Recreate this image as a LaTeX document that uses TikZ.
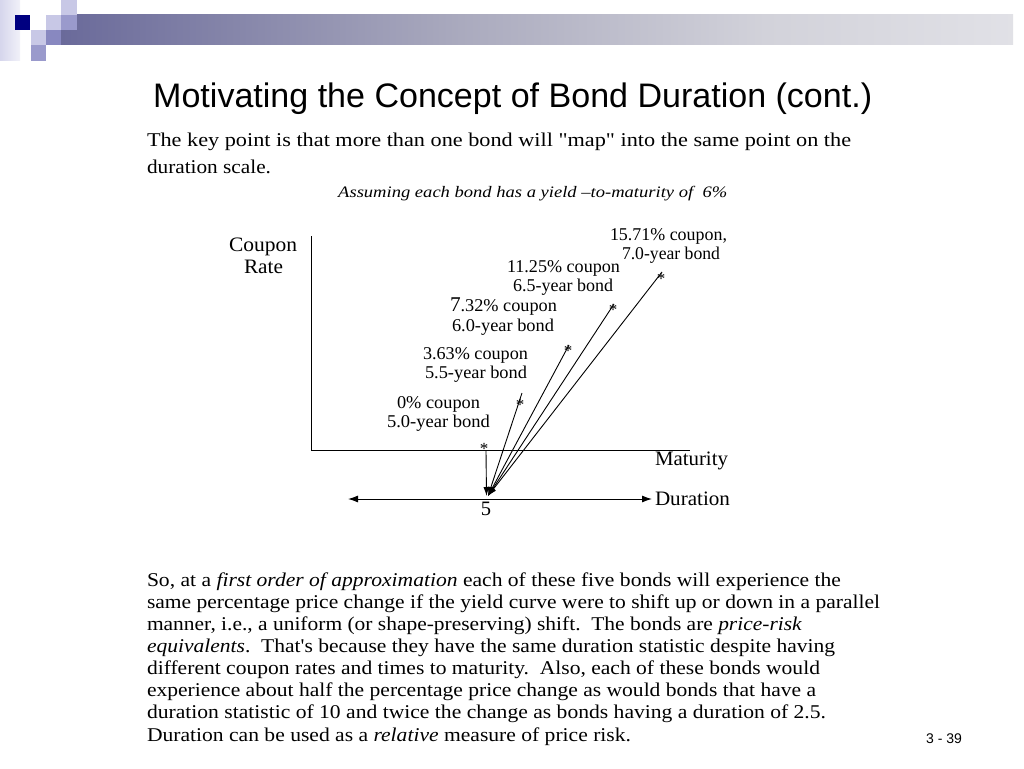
\documentclass[tikz,border=0pt]{standalone}
\usepackage{fontspec}
\setmainfont{Liberation Serif}[Ligatures=TeXOff]
\newfontfamily\sansf{Liberation Sans}
\usepackage{graphicx}
\usetikzlibrary{arrows.meta}
\newcommand{\fitw}[2]{\resizebox{#1pt}{\height}{#2}}
\definecolor{navyA}{HTML}{000080}
\definecolor{barA}{HTML}{1A1A80}
\definecolor{barB}{HTML}{6A6A9A}
\definecolor{barC}{HTML}{AAAABE}
\definecolor{barD}{HTML}{D2D2DA}
\definecolor{barE}{HTML}{EAEAEE}
\definecolor{barF}{HTML}{FAFAFC}
\definecolor{sqLight}{HTML}{C8C8E6}
\definecolor{sqMid}{HTML}{9A9ACC}
\definecolor{sqMidB}{HTML}{8888C0}
\pgfdeclarehorizontalshading{barshade}{100bp}{color(0bp)=(barA); color(25bp)=(barB); color(46bp)=(barC); color(62bp)=(barD); color(83bp)=(barE); color(100bp)=(barF)}
\pgfdeclarehorizontalshading{stripshade}{100bp}{color(0bp)=(sqLight); color(100bp)=(white)}
\tikzset{
  txt/.style={inner sep=0pt, outer sep=0pt, anchor=base west, font=\fontsize{19.5}{22}\selectfont},
  lbl/.style={inner sep=0pt, outer sep=0pt, anchor=base, font=\fontsize{18}{20}\selectfont},
  axlbl/.style={inner sep=0pt, outer sep=0pt, font=\fontsize{20.5}{22}\selectfont},
  starmark/.style={inner sep=0pt, outer sep=0pt, anchor=base, font=\fontsize{17}{17}\selectfont},
  axline/.style={line width=1pt},
  ray/.style={line width=0.9pt, -{Latex[length=9pt,width=6pt]}},
}
\begin{document}
\begin{tikzpicture}[x=1pt,y=-1pt]
\useasboundingbox (0,0) rectangle (1024,768);
\fill[white] (0,0) rectangle (1024,768);
% decoration
\shade[shading=stripshade] (0,0) rectangle (20,60);
\shade[shading=barshade] (61,15) rectangle (1013,45);
\fill[sqLight] (61,0) rectangle (77,15);
\fill[navyA] (15,15) rectangle (30,30);
\fill[sqLight] (46,15) rectangle (61,30);
\fill[sqMid] (61,15) rectangle (77,30);
\fill[sqLight] (31,30) rectangle (46,45);
\fill[sqMidB] (46,30) rectangle (61,45);
\fill[sqMid] (31,45) rectangle (46,61);
% title
\node[inner sep=0pt, anchor=base west, font=\sansf\fontsize{34}{36}\selectfont] (title) at (153,107.5)
  {\fitw{719}{Motivating the Concept of Bond Duration (cont.)}};
% top text
\node[txt] (t1) at (147,146) {\fitw{704}{The key point is that more than one bond will "map" into the same point on the}};
\node[txt] (t2) at (147,173) {\fitw{124}{duration scale.}};
\node[inner sep=0pt, anchor=base west, font=\fontsize{16}{18}\selectfont\itshape] (t3) at (338,197)
  {\fitw{389}{Assuming each bond has a yield –to-maturity of\ \ 6\%}};
% axes
\coordinate (yTop) at (311,236);
\coordinate (orig) at (311,450);
\coordinate (xEnd) at (690,450);
\draw[axline] (yTop) -- (orig) -- (xEnd);
\node[axlbl, anchor=base] (cp) at (263,251) {\fitw{68}{Coupon}};
\node[axlbl, anchor=base] (rt) at (263.5,273) {\fitw{39}{Rate}};
\node[axlbl, anchor=base west] (mat) at (655,465) {\fitw{73}{Maturity}};
\node[axlbl, anchor=base west] (dur) at (655,505) {\fitw{75}{Duration}};
% duration scale
\coordinate (dL) at (348,499);
\coordinate (dR) at (652,499);
\draw[line width=1pt, {Latex[length=10pt,width=7pt]}-{Latex[length=10pt,width=7pt]}] (dL) -- (dR);
\node[axlbl, anchor=base] (five) at (486,515) {5};
% bond labels
\node[lbl] (b4a) at (668.5,240) {\fitw{117}{15.71\% coupon,}};
\node[lbl] (b4b) at (671,259) {\fitw{98}{7.0-year bond}};
\node[lbl] (b3a) at (563.5,272) {\fitw{113}{11.25\% coupon}};
\node[lbl] (b3b) at (563,291) {\fitw{100}{6.5-year bond}};
\node[lbl] (b2a) at (503.5,311) {\fitw{107}{{\fontsize{21}{21}\selectfont 7}.32\% coupon}};
\node[lbl] (b2b) at (503,331) {\fitw{102}{6.0-year bond}};
\node[lbl] (b1a) at (475.5,359) {\fitw{105}{3.63\% coupon}};
\node[lbl] (b1b) at (476,378) {\fitw{102}{5.5-year bond}};
\node[lbl] (b0a) at (438.5,408) {\fitw{83}{0\% coupon}};
\node[lbl] (b0b) at (438.5,427) {\fitw{103}{5.0-year bond}};
% stars
\node[starmark] (s0) at (484,454) {*};
\node[starmark] (s1) at (520,410) {*};
\node[starmark] (s2) at (568,356) {*};
\node[starmark] (s3) at (613,315) {*};
\node[starmark] (s4) at (661,284) {*};
% rays
\coordinate (tip) at (488,496);
\coordinate (v0) at (486,451);
\coordinate (vtip) at (486.5,496);
\coordinate (r1) at (522,393);
\coordinate (r2) at (569,345);
\coordinate (r3) at (614,304);
\coordinate (r4) at (662,272);
\draw[ray] (v0) -- (vtip);
\draw[ray] (r1) -- (tip);
\draw[ray] (r2) -- (tip);
\draw[ray] (r3) -- (tip);
\draw[ray] (r4) -- (tip);
% bottom paragraph
\node[txt] (p1) at (147,586) {\fitw{694}{So, at a \textit{first order of approximation} each of these five bonds will experience the}};
\node[txt] (p2) at (147,608) {\fitw{733}{same percentage price change if the yield curve were to shift up or down in a parallel}};
\node[txt] (p3) at (147,630) {\fitw{655}{manner, i.e., a uniform (or shape-preserving) shift.\ \ The bonds are \textit{price-risk}}};
\node[txt] (p4) at (147,652) {\fitw{688}{\textit{equivalents}.\ \ That's because they have the same duration statistic despite having}};
\node[txt] (p5) at (147,674) {\fitw{673}{different coupon rates and times to maturity.\ \ Also, each of these bonds would}};
\node[txt] (p6) at (147,696) {\fitw{669}{experience about half the percentage price change as would bonds that have a}};
\node[txt] (p7) at (147,718) {\fitw{679}{duration statistic of 10 and twice the change as bonds having a duration of 2.5.}};
\node[txt] (p8) at (147,741) {\fitw{484}{Duration can be used as a \textit{relative} measure of price risk.}};
% page number
\node[inner sep=0pt, anchor=base west, font=\sansf\fontsize{14}{14}\selectfont] (pg) at (926,743) {3 - 39};
\end{tikzpicture}
\end{document}
